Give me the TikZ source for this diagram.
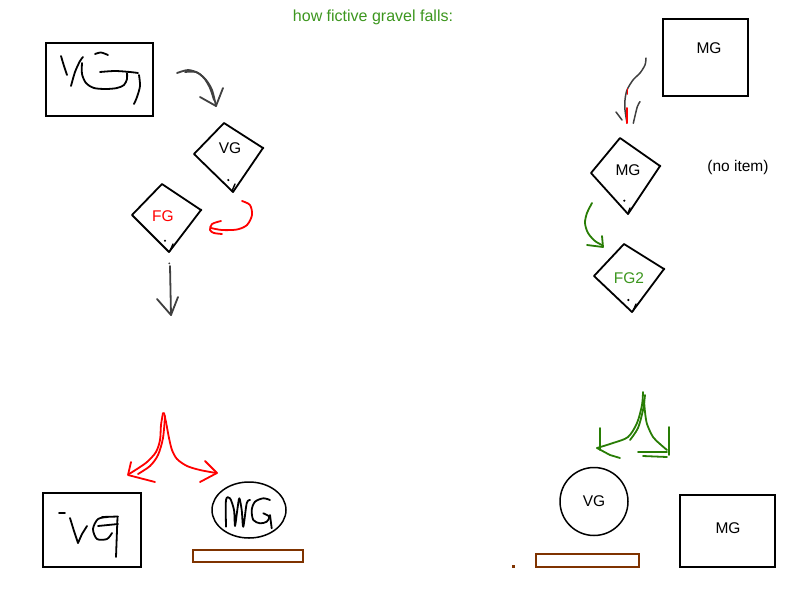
\documentclass[tikz,border=0pt]{standalone}
\usepackage{fontspec}
\setmainfont{Liberation Sans}
\usetikzlibrary{shapes.geometric}
\definecolor{gtitle}{RGB}{60,150,30}
\definecolor{garrow}{RGB}{40,125,5}
\definecolor{sgray}{RGB}{64,64,64}
\definecolor{gbrown}{RGB}{127,51,0}
\begin{document}
\begin{tikzpicture}[x=1pt,y=-1pt,
  box/.style={draw=black,line width=2pt,inner sep=0pt},
  brownbox/.style={draw=gbrown,line width=2pt,inner sep=0pt},
  dia/.style={draw=black,line width=1.8pt,line join=round},
  scrib/.style={draw=black,line width=1.8pt,line cap=round,line join=round},
  grayarr/.style={draw=sgray,line width=1.8pt,line cap=round,line join=round},
  redarr/.style={draw=red,line width=1.8pt,line cap=round,line join=round},
  grnarr/.style={draw=garrow,line width=1.8pt,line cap=round,line join=round},
  lbl/.style={font=\fontsize{15.5}{18}\selectfont,inner sep=0pt},
  dotmark/.style={fill=black}]
\useasboundingbox (0,0) rectangle (800,600);

% title
\node[lbl,font=\fontsize{16}{19}\selectfont,text=gtitle] (title) at (373,17) {how fictive gravel falls:};

% ---------- left column ----------
\node[box,minimum width=107pt,minimum height=73pt] (vgbox) at (99.5,79.5) {};
% handwritten VG
\draw[scrib] plot[smooth] coordinates {(61,56) (64,66) (67,75)};
\draw[scrib] plot[smooth] coordinates {(71,86) (75,72) (80,61) (83,57)};
\draw[scrib] plot[smooth] coordinates {(95,54) (101,52.5) (108,55)};
\draw[scrib] plot[smooth] coordinates {(82,63) (82,74) (86,83) (94,88) (106,89) (117,88) (124,85) (127,79) (127,73)};
\draw[scrib] plot[smooth] coordinates {(100,72) (115,71) (130,72) (138,73)};
\draw[scrib] plot[smooth] coordinates {(139,75) (140,86) (137,97) (134,104)};

% gray arrow to VG diamond
\coordinate (a1s) at (177,73);
\coordinate (a1e) at (216,106);
\draw[grayarr] plot[smooth] coordinates {(177,73) (188,70) (198,73) (206,80) (212,90) (216,106)};
\draw[grayarr] plot[smooth] coordinates {(185,72) (196,72) (204,78) (210,88) (214,100)};
\draw[grayarr] (200,97) -- (a1e) -- (223,88);

% VG diamond
\coordinate (vgt) at (224,123); \coordinate (vgr) at (263,148);
\coordinate (vgb) at (233,192); \coordinate (vgl) at (194,154);
\draw[dia] (vgt) -- (vgr) -- (vgb) -- (vgl) -- cycle;
\node[lbl] (vgd) at (230,148) {VG};
\fill (228.3,180) circle (1.2pt);
\draw[scrib,line width=1.4pt] (235,184) -- (232,191);
\fill (263,148) circle (1.4pt);

% FG diamond
\coordinate (fgt) at (162,184); \coordinate (fgr) at (201,210);
\coordinate (fgb) at (169,252); \coordinate (fgl) at (132,215);
\draw[dia] (fgt) -- (fgr) -- (fgb) -- (fgl) -- cycle;
\node[lbl,text=red] (fgd) at (163,216) {FG};
\fill (165,240.7) circle (1.2pt);
\draw[scrib,line width=1.4pt] (173,244) -- (170,251);
\fill (201,210) circle (1.4pt);

% red curl arrow
\draw[redarr] plot[smooth] coordinates {(242,201) (250,205) (252,215) (247,225) (237,229.5) (222,230) (211,228)};
\draw[redarr] plot[smooth] coordinates {(221,221) (212,224) (210,230) (214,233) (222,234)};

% gray down arrow
\coordinate (a2s) at (170,266);
\coordinate (a2e) at (171,315);
\fill[sgray] (169.3,263.3) circle (1pt);
\draw[grayarr] (a2s) -- (a2e);
\draw[grayarr] (157,299) -- (a2e) -- (178,297);

% red wave arrows
\draw[redarr] plot[smooth] coordinates {(163,413) (161,425) (160,440) (156,452) (147,462) (137,469) (129,474)};
\draw[redarr] plot[smooth] coordinates {(165,416) (163,438) (158,455) (150,466) (138,474)};
\draw[redarr] (131,462) -- (128,475) -- (155,482);
\draw[redarr] plot[smooth] coordinates {(164,413) (166,422) (169,438) (172,450) (177,459) (187,466) (200,470) (216,473)};
\draw[redarr] (205,461) -- (217,473) -- (200,482);

% bottom-left VG box
\node[box,minimum width=98pt,minimum height=74pt] (vgbox2) at (92,530) {};
\draw[scrib] (59,513) -- (65,513);
\draw[scrib] plot[smooth] coordinates {(70,518) (74,531) (78,543)};
\draw[scrib] (78,543) -- (82,534) -- (87,526);
\draw[scrib] plot[smooth] coordinates {(108,517) (98,519) (93,529) (97,539) (107,539) (112,533)};
\draw[scrib] (98,526) -- (118,524);
\draw[scrib] (102,517) -- (118,516.5);
\draw[scrib] (117.5,517) -- (116,557);

% MG ellipse
\node[draw=black,line width=1.5pt,ellipse,minimum width=74pt,minimum height=56pt,inner sep=0pt] (mgell) at (249,510) {};
\draw[scrib] plot[smooth] coordinates {(226,526.7) (226,500) (230,498.3) (234,510) (235,526) (237.3,510) (239.3,498.3) (241.7,510) (243.3,526.7) (246.7,503.3) (250,500)};
\draw[scrib] plot[smooth] coordinates {(270,500) (263.3,498.3) (255,501.7) (251.7,510) (253.3,520) (260,523.3) (266.7,521.7) (269.3,516.7) (263.3,513.3)};
\draw[scrib] (270,515) -- (271.7,528.3);

% brown platform left
\node[brownbox,minimum width=110pt,minimum height=12pt] (plat1) at (248,556) {};

% ---------- right column ----------
\node[box,minimum width=85pt,minimum height=77pt] (mgbox) at (705.5,57.5) {};
\node[lbl] (mgboxt) at (709,48) {MG};

% gray/red squiggle arrow
\coordinate (a3e) at (627,123);
\draw[grayarr,line width=1.5pt] plot[smooth] coordinates {(646,58) (645,65) (640,73) (633,80) (627,90) (625,100) (625,110) (627,123)};
\draw[redarr,line width=1.6pt] (627.3,89) -- (627.3,94);
\draw[redarr,line width=2pt] (626.7,108) -- (626.7,123);
\draw[grayarr,line width=1.5pt] (616,112) -- (622,120);
\draw[grayarr,line width=1.5pt] plot[smooth] coordinates {(640,101.7) (637.3,106.7) (633.3,123.3)};

% MG diamond
\coordinate (mgt) at (620,138); \coordinate (mgr) at (660,166);
\coordinate (mgb) at (628,214); \coordinate (mgl) at (591,173);
\draw[dia] (mgt) -- (mgr) -- (mgb) -- (mgl) -- cycle;
\node[lbl] (mgd) at (628,170) {MG};
\fill (624.3,200.7) circle (1.2pt);
\draw[scrib,line width=1.4pt] (630,208) -- (628,213);
\fill (660,166) circle (1.4pt);

\node[lbl] (noitem) at (738,167) {(no item)};

% green curl arrow
\draw[grnarr] plot[smooth] coordinates {(592,203) (587,213) (585,223) (588,233) (595,241) (602,245)};
\draw[grnarr] (602,236) -- (603,247) -- (587,245);

% FG2 diamond
\coordinate (f2t) at (624,244); \coordinate (f2r) at (664,269);
\coordinate (f2b) at (632,312); \coordinate (f2l) at (594,276);
\draw[dia] (f2t) -- (f2r) -- (f2b) -- (f2l) -- cycle;
\node[lbl,text=gtitle] (fg2d) at (629,278) {FG2};
\fill (628.3,300) circle (1.2pt);
\draw[scrib,line width=1.4pt] (636,304) -- (633,311);
\fill (664,269) circle (1.4pt);

% green wave arrows
\draw[grnarr] plot[smooth] coordinates {(643,392) (642,405) (637,423) (628,437) (613,443) (597,448)};
\draw[grnarr] plot[smooth] coordinates {(645,395) (643,410) (638,428) (630,440)};
\draw[grnarr] (600,428) -- (600,450);
\draw[grnarr] (597,448) -- (610,455) -- (620,458);
\draw[grnarr] plot[smooth] coordinates {(644,400) (645,412) (647,424) (653,437) (660,444) (667,450)};
\draw[grnarr] (669,427) -- (669,455);
\draw[grnarr] (638,452) -- (667,452);
\draw[grnarr] (643,456) -- (667,457);

% VG circle
\node[draw=black,line width=1.5pt,circle,minimum size=68pt,inner sep=0pt,lbl] (vgcirc) at (594,501.5) {VG};

% brown platform right
\node[brownbox,minimum width=103pt,minimum height=13pt] (plat2) at (587.5,560) {};
\fill[gbrown] (511.8,564.5) rectangle (514.8,567.5);

% MG box bottom right
\node[box,minimum width=95pt,minimum height=72pt] (mgbox2) at (727.5,531) {};
\node[lbl] (mgbox2t) at (728,528) {MG};
\end{tikzpicture}
\end{document}
